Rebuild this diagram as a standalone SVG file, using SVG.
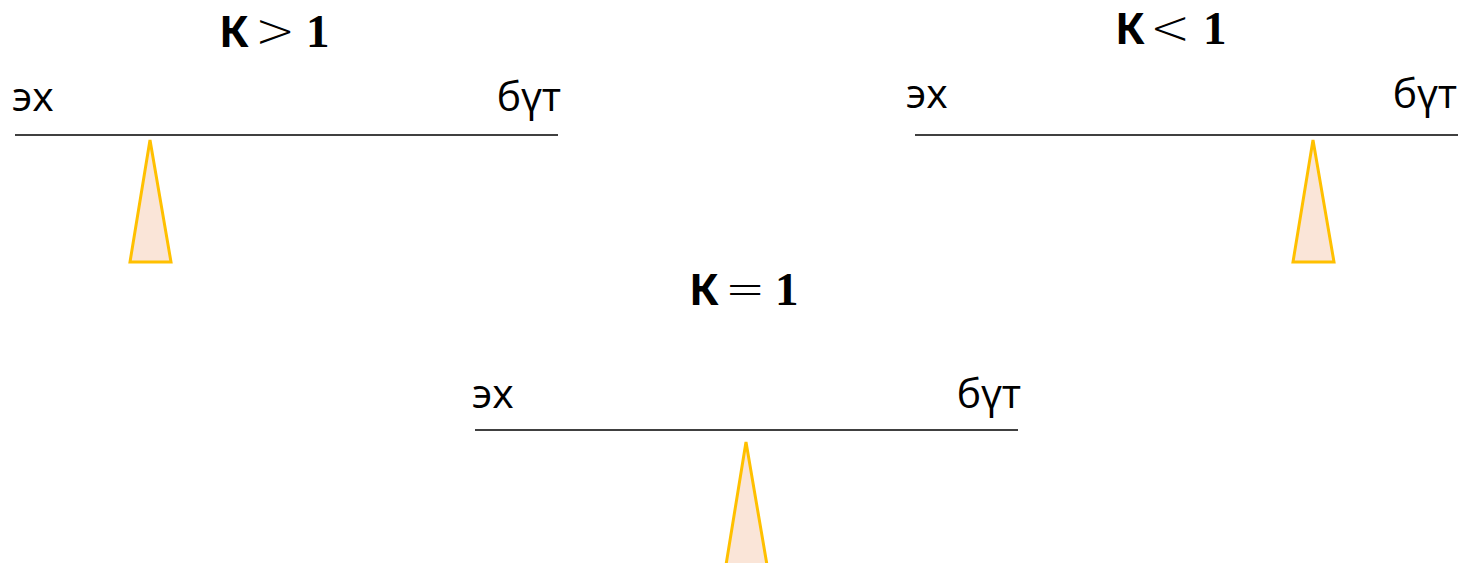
<svg xmlns="http://www.w3.org/2000/svg" width="1463" height="563" viewBox="0 0 1463 563">
<style>
.lbl{font-family:"Open Sans","Noto Sans",sans-serif;font-size:41px;fill:#000}
.ttl{font-family:"Noto Sans","Open Sans",sans-serif;font-size:43px;font-weight:bold;fill:#000}
.op{font-family:"DejaVu Sans",sans-serif;font-weight:200;font-size:48px}
.m{font-family:"Liberation Serif",serif;font-weight:bold;font-size:47px}
.beam{stroke:#000;stroke-width:1.5;fill:none}
.tri{fill:#fae5d8;stroke:#ffc000;stroke-width:3;stroke-linejoin:miter}
</style>
<rect width="1463" height="563" fill="#fff"/>
<g id="scale-gt">
<text class="ttl" y="47"><tspan x="219">К</tspan><tspan class="op" x="255">&gt;</tspan><tspan class="m" x="306">1</tspan></text>
<text class="lbl" x="12" y="111">эх</text>
<text class="lbl" x="561" y="111" text-anchor="end">бүт</text>
<line class="beam" x1="15" y1="135" x2="558" y2="135"/>
<polygon class="tri" points="150,140 130,262 171,262"/>
</g>
<g id="scale-lt">
<text class="ttl" y="44"><tspan x="1115">К</tspan><tspan class="op" x="1150">&lt;</tspan><tspan class="m" x="1203">1</tspan></text>
<text class="lbl" x="906" y="108">эх</text>
<text class="lbl" x="1457" y="108" text-anchor="end">бүт</text>
<line class="beam" x1="915" y1="135" x2="1458" y2="135"/>
<polygon class="tri" points="1313,140 1293,262 1334,262"/>
</g>
<g id="scale-eq">
<text class="ttl" y="305"><tspan x="689">К</tspan><tspan class="op" x="725">=</tspan><tspan class="m" x="775">1</tspan></text>
<text class="lbl" x="472" y="408">эх</text>
<text class="lbl" x="1021" y="408" text-anchor="end">бүт</text>
<line class="beam" x1="475" y1="430" x2="1018" y2="430"/>
<polygon class="tri" points="746,442 726,565 767,565"/>
</g>
</svg>
